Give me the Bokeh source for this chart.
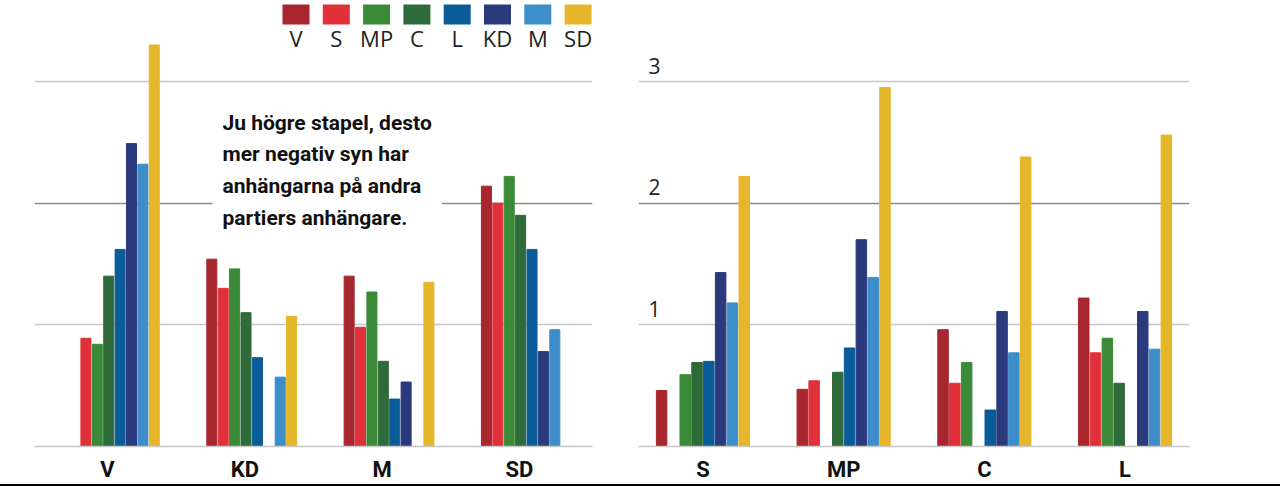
from bokeh.plotting import figure
from bokeh.models import (ColumnDataSource, FactorRange, Range1d, FixedTicker,
                          Grid, Label, BoxAnnotation, Div)
from bokeh.layouts import row, column
from bokeh.transform import dodge
from bokeh.embed import file_html
from bokeh.resources import INLINE

# ---------------- data ----------------
parties = ["V", "S", "MP", "C", "L", "KD", "M", "SD"]
party_colors = ["#a8262e", "#e0313b", "#3a8a37", "#2f6a3a",
                "#0a5c99", "#2b3a7c", "#3c8dc9", "#e6b62a"]

left_groups = ["V", "KD", "M", "SD"]
left_v = [None, 0.89, 0.84, 1.40, 1.62, 2.49, 2.32, 3.30]
left_kd = [1.54, 1.30, 1.46, 1.10, 0.73, None, 0.57, 1.07]
left_m = [1.40, 0.98, 1.27, 0.70, 0.39, 0.53, None, 1.35]
left_sd = [2.14, 2.00, 2.22, 1.90, 1.62, 0.78, 0.96, None]

right_groups = ["S", "MP", "C", "L"]
right_s = [0.46, None, 0.59, 0.69, 0.70, 1.43, 1.18, 2.22]
right_mp = [0.47, 0.54, None, 0.61, 0.81, 1.70, 1.39, 2.95]
right_c = [0.96, 0.52, 0.69, None, 0.30, 1.11, 0.77, 2.38]
right_l = [1.22, 0.77, 0.89, 0.52, None, 1.11, 0.80, 2.56]

y_ticks = [1, 2, 3]
y_tick_labels = ["1", "2", "3"]

note_text = "Ju högre stapel, desto\nmer negativ syn har\nanhängarna på andra\npartiers anhängare."

LIGHT_GRID = "#c8c8c8"
DARK_GRID = "#8c8c8c"
THIN_FONT = "Open Sans"
BOLD_FONT = "Roboto"
FRAME_H = 446
Y_MAX = 3.666


def make_chart(groups, series, frame_w, b_left, b_right, pad, slot, bar_w, shift):
    p = figure(x_range=FactorRange(*groups, range_padding=pad,
                                   range_padding_units="absolute"),
               y_range=Range1d(0, Y_MAX),
               frame_width=frame_w, frame_height=FRAME_H,
               min_border_left=b_left, min_border_right=b_right,
               min_border_top=0, min_border_bottom=38,
               output_backend="svg", toolbar_location=None)
    for i, (pp, c) in enumerate(zip(parties, party_colors)):
        xs = [g for g, vals in zip(groups, series) if vals[i] is not None]
        tops = [vals[i] for vals in series if vals[i] is not None]
        src = ColumnDataSource(dict(x=xs, top=tops))
        p.vbar(x=dodge("x", (i - 3.5) * slot + shift, range=p.x_range),
               top="top", width=bar_w, color=c, source=src)
    p.xgrid.visible = False
    p.ygrid.ticker = FixedTicker(ticks=[1, 3])
    p.ygrid.grid_line_color = LIGHT_GRID
    p.ygrid.grid_line_width = 1.3
    p.add_layout(Grid(dimension=1, ticker=FixedTicker(ticks=[2]),
                      grid_line_color=DARK_GRID, grid_line_width=1.3))
    p.yaxis.visible = False
    p.outline_line_color = None
    ax = p.xaxis[0]
    ax.axis_line_color = LIGHT_GRID
    ax.axis_line_width = 1.5
    ax.major_tick_line_color = None
    ax.minor_tick_line_color = None
    ax.major_tick_out = 0
    ax.major_label_text_font = BOLD_FONT
    ax.major_label_text_font_size = "22px"
    ax.major_label_text_font_style = "bold"
    ax.major_label_text_color = "#111111"
    ax.major_label_standoff = 10
    return p


left = make_chart(left_groups, [left_v, left_kd, left_m, left_sd],
                  558, 34, 18, 0.032, 0.083, 0.073, 0.05)
right = make_chart(right_groups, [right_s, right_mp, right_c, right_l],
                   551, 28, 91, -0.042, 0.0839, 0.0746, 0.0)

# legend on the left chart (screen units, relative to frame)
for i, (pp, c) in enumerate(zip(parties, party_colors)):
    x0 = 248 + i * 40.3
    left.add_layout(BoxAnnotation(left=x0, right=x0 + 27,
                                  top=FRAME_H - 4, bottom=FRAME_H - 24,
                                  left_units="screen", right_units="screen",
                                  top_units="screen", bottom_units="screen",
                                  fill_color=c, fill_alpha=1.0, line_color=None))
    left.add_layout(Label(x=x0 + 13.5, y=FRAME_H - 22,
                          x_units="screen", y_units="screen",
                          text=pp, text_align="center", text_baseline="top",
                          text_font=THIN_FONT, text_font_size="22px",
                          text_color="#222222"))

# explanatory note
left.add_layout(Label(x=178, y=FRAME_H - 100, x_units="screen", y_units="screen",
                      text=note_text, text_align="left", text_baseline="top",
                      text_font=BOLD_FONT, text_font_style="bold",
                      text_font_size="21px", text_line_height=1.33,
                      text_color="#111111",
                      background_fill_color="white", padding=10))

# y tick labels on the right chart
for t, lab in zip(y_ticks, y_tick_labels):
    right.add_layout(Label(x=10, y=t, x_units="screen", y_units="data",
                           y_offset=8,
                           text=lab, text_align="left", text_baseline="bottom",
                           text_font=THIN_FONT, text_font_size="21px",
                           text_color="#222222"))

bottom_line = Div(text='<div style="width:1280px;height:2px;background:#000000;"></div>',
                  width=1280, height=2, margin=0,
                  styles={"background-color": "#000000"})

layout = column(row(left, right), bottom_line)
open("out.html", "w").write(file_html(layout, INLINE))
